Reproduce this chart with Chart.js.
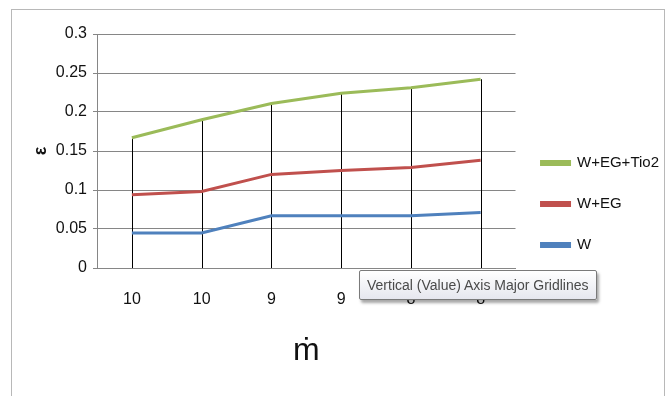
<!DOCTYPE html>
<html>
<head>
<meta charset="utf-8">
<script src="https://cdn.jsdelivr.net/npm/chart.js@4"></script>
<style>
  html, body { margin: 0; padding: 0; background: #fff; }
  #wrap { position: relative; width: 670px; height: 396px; overflow: hidden; }
  #frame { position: absolute; left: 11px; top: 9px; width: 652px; height: 420px; border: 1px solid #b8b8b8; }
  canvas { position: absolute; left: 0; top: 0; }
  #tip {
    position: absolute; left: 359px; top: 270px; width: 229px; height: 28px;
    border: 1px solid #7a7a7a; border-radius: 2px;
    background: linear-gradient(#ffffff, #e6e7ef);
    box-shadow: 2px 3px 3px rgba(0,0,0,0.35);
    font: 14px "Liberation Sans", sans-serif; color: #4a4a4a;
    line-height: 28px; padding-left: 7px; box-sizing: content-box; white-space: nowrap;
  }
</style>
</head>
<body>
<div id="wrap">
  <div id="frame"></div>
  <canvas id="chart" width="670" height="396"></canvas>
  <div id="tip">Vertical (Value) Axis Major Gridlines</div>
</div>
<script>
// categories (mass flow rate)
const categories = ["10", "10", "9", "9", "8", "8"];

// effectiveness values per fluid
const seriesTiO2 = [0.167, 0.19, 0.211, 0.224, 0.231, 0.242];
const seriesEG = [0.094, 0.098, 0.12, 0.125, 0.129, 0.138];
const seriesW = [0.045, 0.045, 0.067, 0.067, 0.067, 0.071];

const seriesNames = ["W+EG+Tio2", "W+EG", "W"];
const seriesColors = ["#9bbb59", "#c0504d", "#4f81bd"];

const yTicks = [0, 0.05, 0.1, 0.15, 0.2, 0.25, 0.3];

const fontFam = '"Liberation Sans", sans-serif';

// black drop lines from the highest point down to the category axis
const dropLines = {
    id: "dropLines",
    beforeDatasetsDraw(chart) {
        const x = chart.scales.x, y = chart.scales.y;
        const ctx = chart.ctx;
        ctx.save();
        ctx.strokeStyle = "#000";
        ctx.lineWidth = 1;
        categories.forEach(function(c, i) {
            const top = Math.max(seriesTiO2[i], seriesEG[i], seriesW[i]);
            const px = Math.round(x.getPixelForValue(i)) + 0.5;
            ctx.beginPath();
            ctx.moveTo(px, y.getPixelForValue(top));
            ctx.lineTo(px, y.getPixelForValue(0));
            ctx.stroke();
        });
        ctx.restore();
    }
};

const allSeries = [seriesTiO2, seriesEG, seriesW];
const datasets = allSeries.map(function(d, i) {
    return {
        label: seriesNames[i],
        data: d,
        borderColor: seriesColors[i],
        backgroundColor: seriesColors[i],
        borderWidth: 3,
        pointRadius: 0,
        tension: 0
    };
});

const ctx = document.getElementById("chart").getContext("2d");
new Chart(ctx, {
    type: "line",
    data: { labels: categories, datasets: datasets },
    plugins: [dropLines],
    options: {
        responsive: false,
        animation: false,
        layout: { padding: { left: 30, top: 34, right: 1, bottom: 22 } },
        plugins: {
            tooltip: { enabled: false },
            legend: {
                position: "right",
                labels: {
                    boxWidth: 28,
                    boxHeight: 3,
                    padding: 26,
                    color: "#111",
                    font: { family: fontFam, size: 15 }
                }
            }
        },
        scales: {
            x: {
                offset: true,
                grid: { display: false },
                border: { color: "#868686" },
                ticks: { color: "#111", padding: 14, font: { family: fontFam, size: 16 } },
                title: { display: true, text: "ṁ", color: "#111", padding: { top: 14 }, font: { family: fontFam, size: 32 } },
                afterFit: function(s) { s.height = 106; }
            },
            y: {
                min: 0,
                max: 0.3,
                afterBuildTicks: function(s) { s.ticks = yTicks.map(function(v) { return { value: v }; }); },
                grid: { color: "#868686", tickLength: 4 },
                border: { color: "#868686" },
                ticks: {
                    color: "#111",
                    padding: 6,
                    font: { family: fontFam, size: 16 },
                    callback: function(v) { return String(Number(v.toFixed(2))); }
                },
                title: { display: true, text: "ε", color: "#111", padding: 0, font: { family: fontFam, size: 18, weight: "bold" } },
                afterFit: function(s) { s.width = 67; }
            }
        }
    }
});
</script>
</body>
</html>
